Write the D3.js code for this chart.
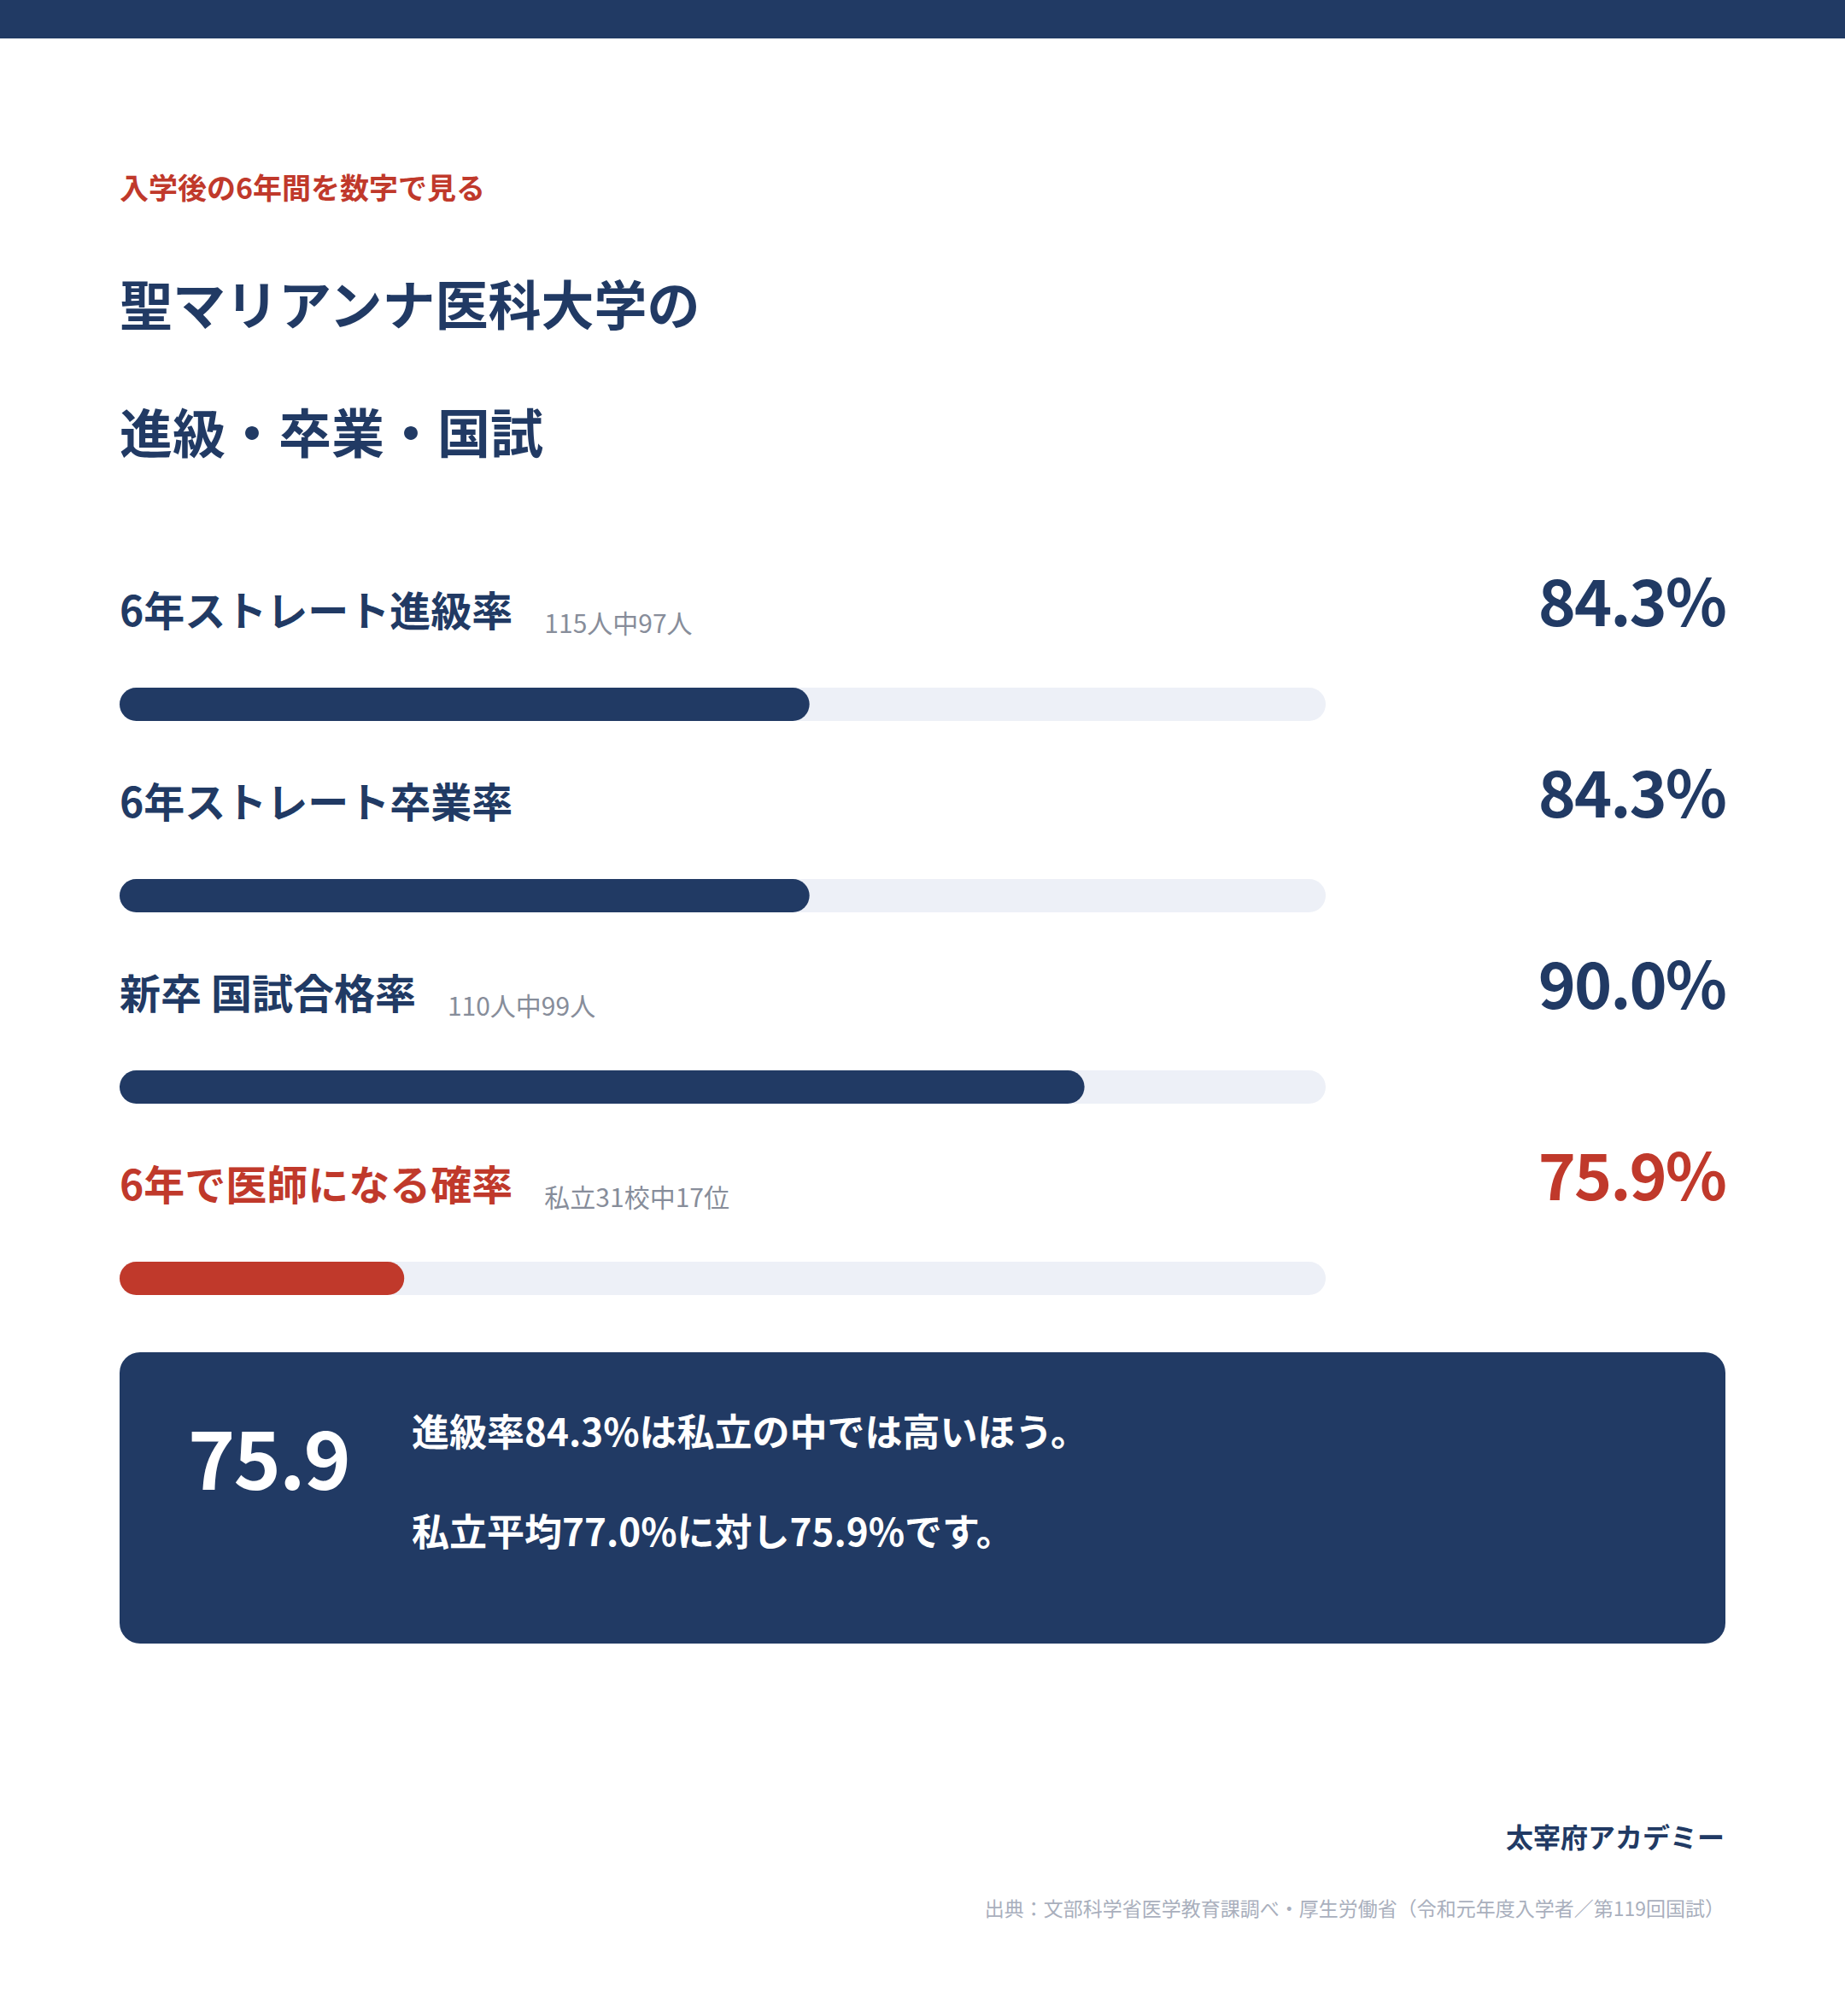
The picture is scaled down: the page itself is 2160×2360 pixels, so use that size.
<!DOCTYPE html>
<html>
<head>
<meta charset="utf-8">
<script src="https://cdn.jsdelivr.net/npm/d3@7"></script>
<style>
  html, body { margin: 0; padding: 0; background: #ffffff; }
  svg { display: block; font-family: "Noto Sans CJK JP", "Noto Sans", sans-serif; }
</style>
</head>
<body>
<div id="chart"></div>
<script>
// ---- data ----
const eyebrow = "入学後の6年間を数字で見る";
const titleLines = ["聖マリアンナ医科大学の", "進級・卒業・国試"];
const categories = ["6年ストレート進級率", "6年ストレート卒業率", "新卒 国試合格率", "6年で医師になる確率"];
const notes = ["115人中97人", "", "110人中99人", "私立31校中17位"];
const values = [84.3, 84.3, 90.0, 75.9];
const highlighted = [false, false, false, true];
const scaleDomain = [70, 95];
const calloutValue = "75.9";
const calloutLines = ["進級率84.3%は私立の中では高いほう。", "私立平均77.0%に対し75.9%です。"];
const brand = "太宰府アカデミー";
const source = "出典：文部科学省医学教育課調べ・厚生労働省（令和元年度入学者／第119回国試）";

// ---- layout ----
const W = 2160, H = 2360;
const NAVY = "#213a64", RED = "#c0392b", TRACK = "#edf0f7", GRAY = "#878d9a", LIGHT = "#a9afbd";
const left = 140, right = 2019, valueRight = 2020, trackRight = 1552;
const barH = 39, firstBarTop = 805, rowStep = 224;

const svg = d3.select("#chart").append("svg").attr("width", W).attr("height", H);
svg.append("rect").attr("width", W).attr("height", H).attr("fill", "#fff");
svg.append("rect").attr("width", W).attr("height", 45).attr("fill", NAVY);

svg.append("text").attr("x", left).attr("y", 233).attr("fill", RED)
  .attr("font-size", 34).attr("font-weight", 700).text(eyebrow);

svg.selectAll("text.title").data(titleLines).join("text").attr("class", "title")
  .attr("x", left).attr("y", (d, i) => 381 + i * 150)
  .attr("fill", NAVY).attr("font-size", 62).attr("font-weight", 700).text(d => d);

const x = d3.scaleLinear().domain(scaleDomain).range([left, trackRight]);
const y = d3.scaleLinear().domain([0, 1]).range([firstBarTop, firstBarTop + rowStep]);

const rows = svg.selectAll("g.row").data(categories.map((c, i) => ({
  c, note: notes[i], v: values[i], hi: highlighted[i], i
}))).join("g").attr("class", "row");

rows.append("rect").attr("x", left).attr("y", d => y(d.i))
  .attr("width", trackRight - left).attr("height", barH)
  .attr("rx", barH / 2).attr("fill", TRACK);

rows.append("rect").attr("x", left).attr("y", d => y(d.i))
  .attr("width", d => x(d.v) - left).attr("height", barH)
  .attr("rx", barH / 2).attr("fill", d => d.hi ? RED : NAVY);

rows.append("text").attr("class", "lbl").attr("x", left).attr("y", d => y(d.i) - 72)
  .attr("fill", d => d.hi ? RED : NAVY).attr("font-size", 48).attr("font-weight", 700)
  .text(d => d.c);

rows.each(function (d) {
  const g = d3.select(this);
  const w = g.select("text.lbl").node().getComputedTextLength();
  if (d.note) {
    g.append("text").attr("x", left + w + 37).attr("y", y(d.i) - 64)
      .attr("fill", GRAY).attr("font-size", 30).attr("font-weight", 400).text(d.note);
  }
});

rows.append("text").attr("x", valueRight).attr("y", d => y(d.i) - 72)
  .attr("text-anchor", "end").attr("fill", d => d.hi ? RED : NAVY)
  .attr("font-size", 75).attr("font-weight", 700).attr("letter-spacing", -2)
  .text(d => d3.format(".1f")(d.v) + "%");

// ---- callout box ----
svg.append("rect").attr("x", left).attr("y", 1583).attr("width", 1880).attr("height", 341)
  .attr("rx", 24).attr("fill", NAVY);
svg.append("text").attr("x", 220).attr("y", 1744).attr("fill", "#fff")
  .attr("font-size", 94).attr("font-weight", 700).attr("letter-spacing", -2).text(calloutValue);
svg.selectAll("text.callout").data(calloutLines).join("text").attr("class", "callout")
  .attr("x", 482).attr("y", (d, i) => 1693 + i * 117)
  .attr("fill", "#fff").attr("font-size", 44).attr("font-weight", 700).text(d => d);

// ---- footer ----
svg.append("text").attr("x", right).attr("y", 2163).attr("text-anchor", "end")
  .attr("fill", NAVY).attr("font-size", 32).attr("font-weight", 700).text(brand);
svg.append("text").attr("x", right).attr("y", 2243).attr("text-anchor", "end")
  .attr("fill", LIGHT).attr("font-size", 23).attr("font-weight", 400).text(source);
</script>
</body>
</html>
